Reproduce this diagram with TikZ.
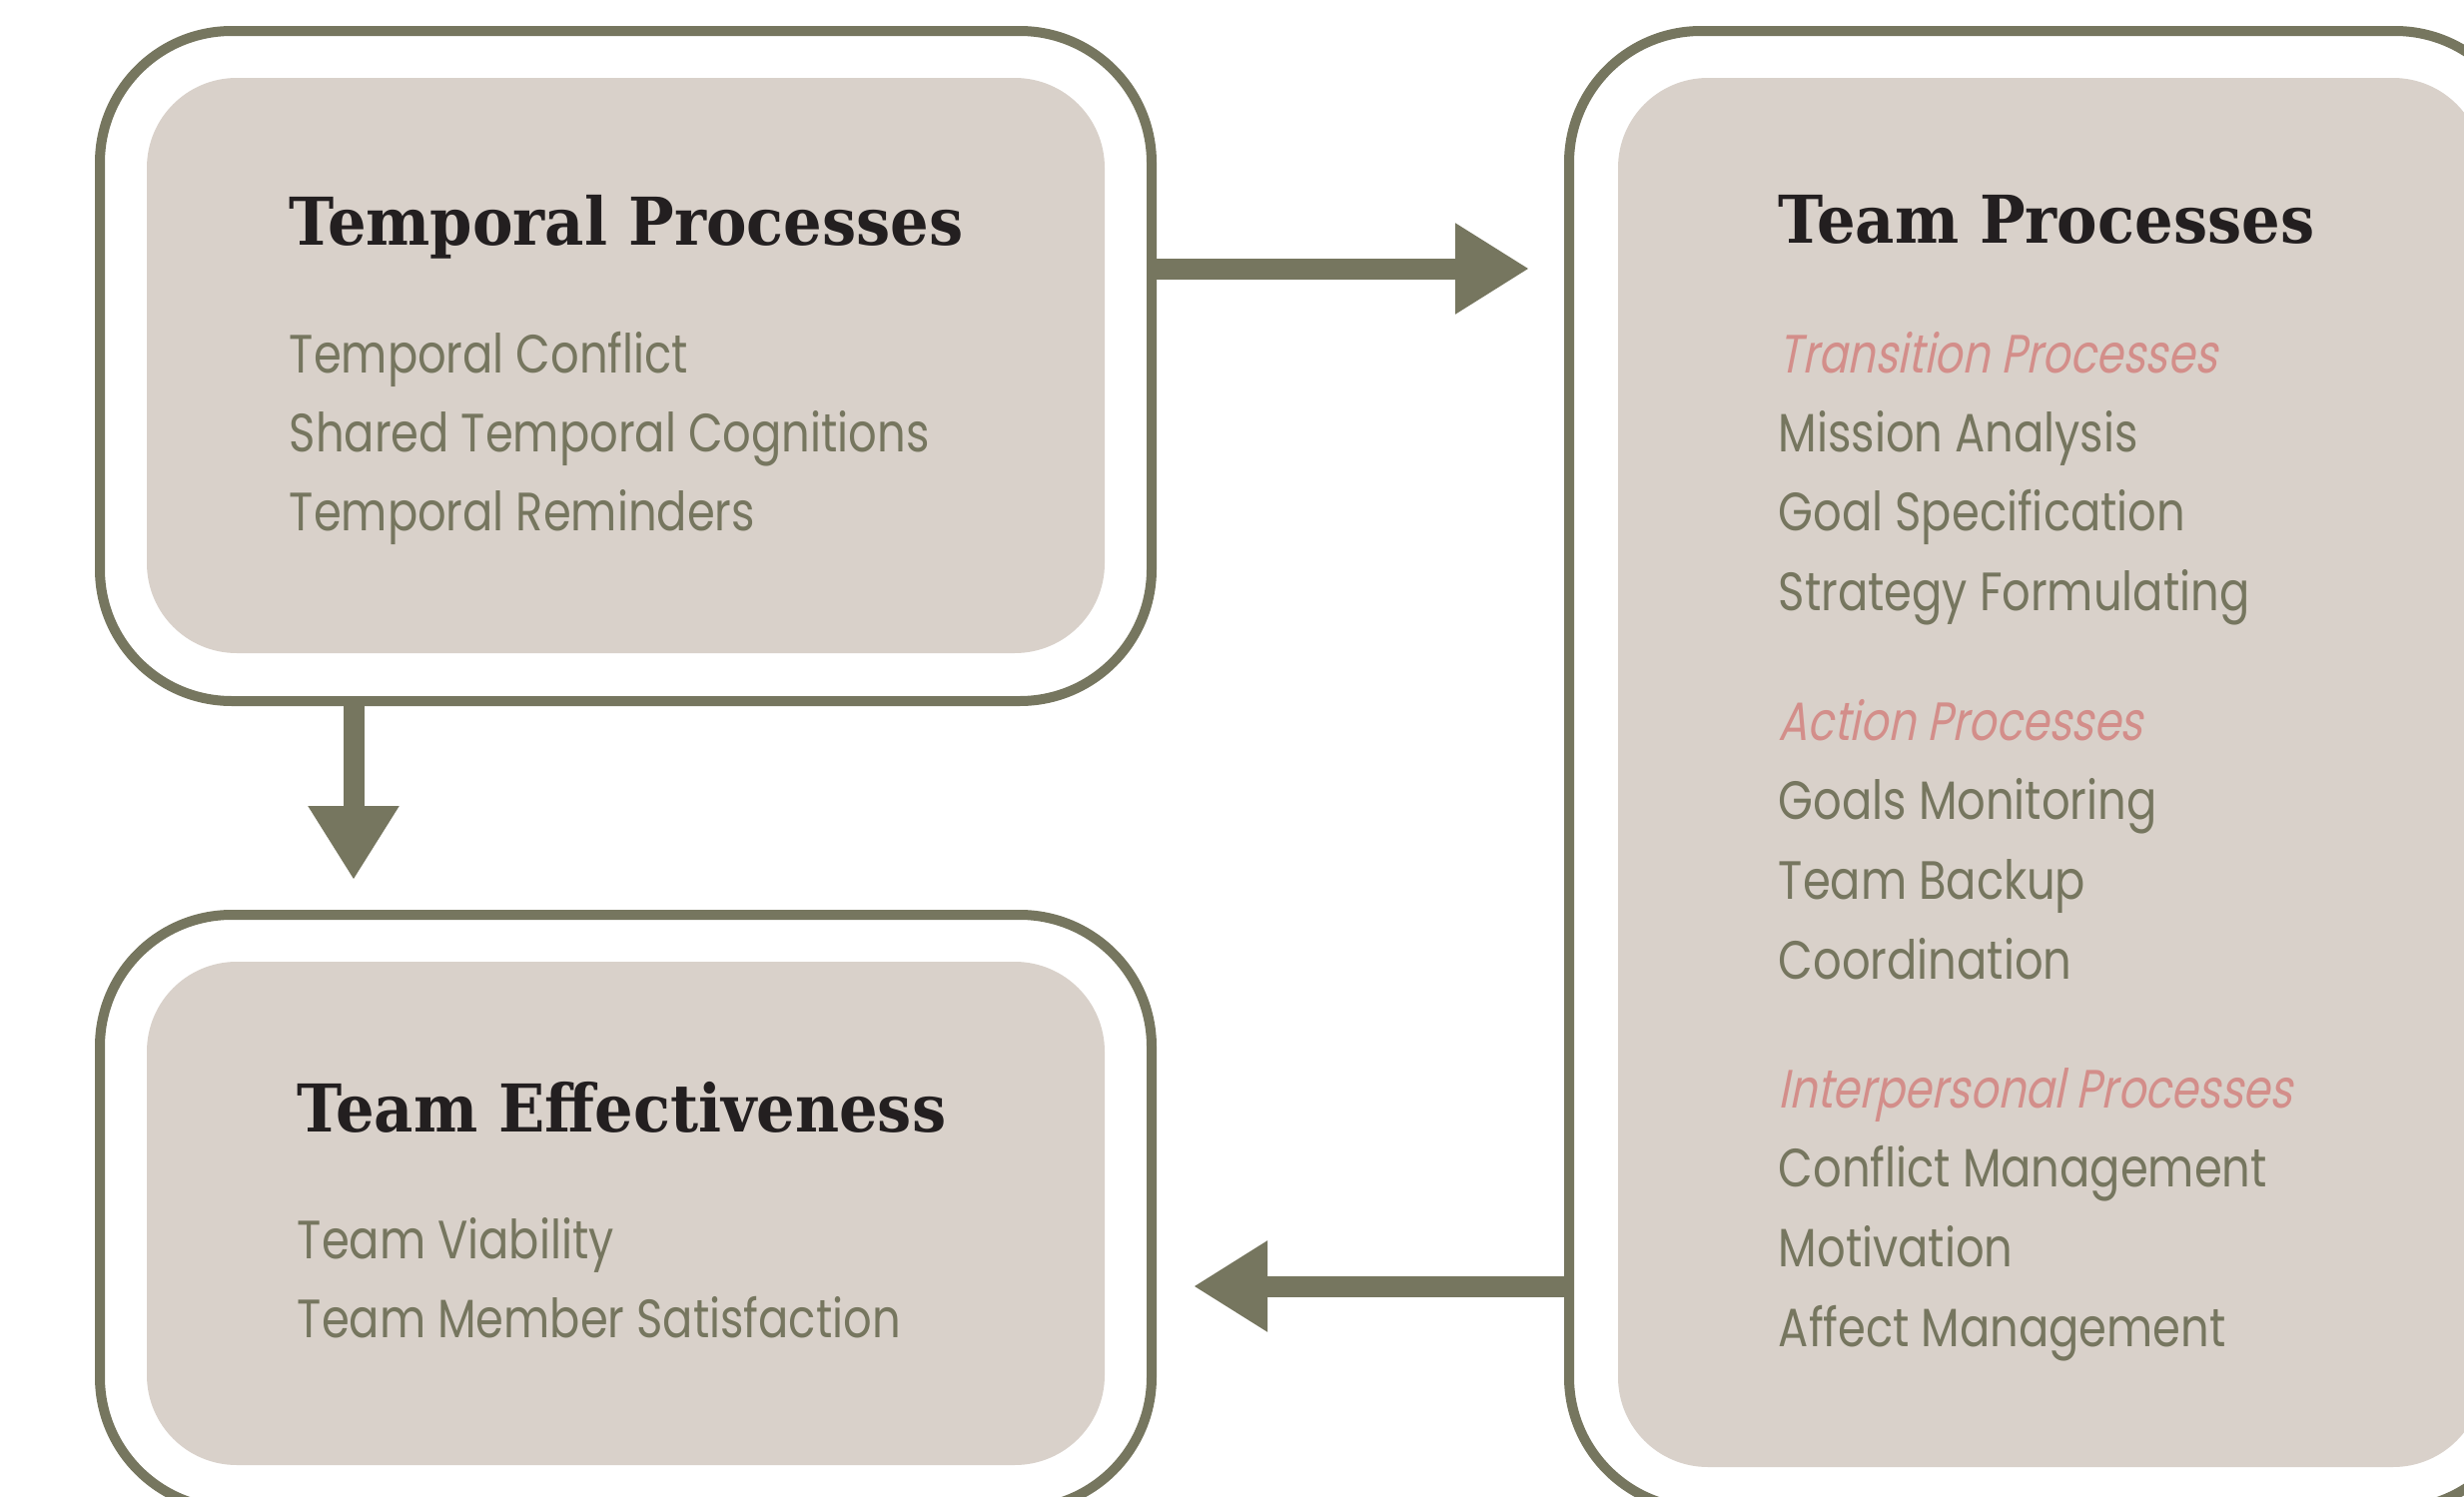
\documentclass[tikz,border=0pt]{standalone}
\usepackage{fontspec}
\usetikzlibrary{arrows.meta}
\newfontfamily\headfont{DejaVu Serif}[FakeStretch=0.92]
\newfontfamily\itemfont{Poppins}[FakeStretch=0.83]
\newfontfamily\groupfont{Poppins}[FakeStretch=0.8,FakeSlant=0.2]
\definecolor{frameolive}{HTML}{76765F}
\definecolor{panelfill}{HTML}{D9D1CA}
\definecolor{headink}{HTML}{231F20}
\definecolor{rose}{HTML}{D38E8A}
\tikzset{
  frame/.style={draw=frameolive,line width=2.5pt,rounded corners=33pt,inner sep=0pt},
  panel/.style={fill=panelfill,rounded corners=22.5pt,inner sep=0pt},
  head/.style={anchor=base west,inner sep=0pt,text=headink,font=\headfont\bfseries\fontsize{16.5pt}{20pt}\selectfont},
  item/.style={anchor=base west,inner sep=0pt,text=frameolive,font=\itemfont\fontsize{13.5pt}{16pt}\selectfont},
  group/.style={item,text=rose,font=\groupfont\fontsize{13.5pt}{16pt}\selectfont},
  flow/.style={draw=frameolive,line width=5.25pt,-{Triangle[length=18.5pt,width=21.5pt]}}
}
\begin{document}
\begin{tikzpicture}[x=0.25pt,y=-0.25pt]
\useasboundingbox (0,0) rectangle (2467,1499);
\clip (0,0) rectangle (2467,1499);
%frames
\node[frame,minimum width=263.25pt,minimum height=167.75pt] (temporal) at (626.5,366.5) {};
\node[frame,minimum width=263.25pt,minimum height=148.75pt] (effect) at (626.5,1213.5) {};
\node[frame,minimum width=239.75pt,minimum height=370pt] (team) at (2050.5,771) {};
%panels
\node[panel,minimum width=239.75pt,minimum height=144pt] (temporal panel) at (626.5,366) {};
\node[panel,minimum width=239.75pt,minimum height=126pt] (effect panel) at (626.5,1215) {};
\node[panel,minimum width=216.5pt,minimum height=347.75pt] (team panel) at (2053,773.5) {};
%arrows
\draw[flow,shorten >=7.5pt] (temporal.south -| 354,0) -- (effect.north -| 354,0);
\draw[flow,shorten >=8.75pt] (temporal.east |- 0,269) -- (team.west |- 0,269);
\draw[flow,shorten >=9.25pt] (team.west |- 0,1288) -- (effect.east |- 0,1288);
%Temporal Processes
\node[head] (temporal title) at (289,245) {Temporal Processes};
\node[item] (temporal 1) at (289,373) {Temporal Conflict};
\node[item] (temporal 2) at (289,452) {Shared Temporal Cognitions};
\node[item] (temporal 3) at (289,531) {Temporal Reminders};
%Team Effectiveness
\node[head] (effect title) at (297,1133) {Team Effectiveness};
\node[item] (effect 1) at (297,1260) {Team Viability};
\node[item] (effect 2) at (297,1339) {Team Member Satisfaction};
%Team Processes
\node[head] (team title) at (1780,243) {Team Processes};
\node[group] (transition) at (1780,373) {Transition Processes};
\node[item] (transition 1) at (1780,452) {Mission Analysis};
\node[item] (transition 2) at (1780,531) {Goal Specification};
\node[item] (transition 3) at (1780,611) {Strategy Formulating};
\node[group] (action) at (1780,741) {Action Processes};
\node[item] (action 1) at (1780,820) {Goals Monitoring};
\node[item] (action 2) at (1780,900) {Team Backup};
\node[item] (action 3) at (1780,980) {Coordination};
\node[group] (interpersonal) at (1780,1109) {Interpersonal Processes};
\node[item] (interpersonal 1) at (1780,1188) {Conflict Management};
\node[item] (interpersonal 2) at (1780,1268) {Motivation};
\node[item] (interpersonal 3) at (1780,1348) {Affect Management};
\end{tikzpicture}
\end{document}
